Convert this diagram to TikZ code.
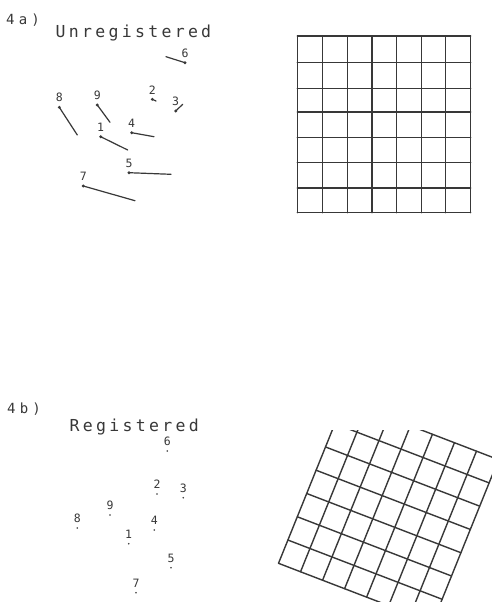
\documentclass[tikz,border=0pt]{standalone}
\usepackage{fontspec}
\newfontfamily\plotfont[LetterSpace=20]{DejaVu Sans Mono}
\newfontfamily\panelfont[LetterSpace=30]{DejaVu Sans Mono}
\definecolor{ink}{gray}{0.22}
\definecolor{txt}{gray}{0.22}
\tikzset{
  gridline/.style={draw=ink, line width=1.4pt, line cap=round},
  vecline/.style={draw=ink, line width=1.2pt, line cap=round},
  bigdot/.style={circle, fill=ink, inner sep=0pt, minimum size=3.2pt},
  smalldot/.style={circle, fill=txt, inner sep=0pt, minimum size=1.8pt},
  title/.style={inner sep=0pt, text=txt, font=\plotfont\fontsize{16.5}{18}\selectfont, anchor=base west},
  panel/.style={inner sep=0pt, text=txt, font=\panelfont\fontsize{14}{15}\selectfont, anchor=base west},
  num/.style={inner sep=0pt, text=txt, font=\plotfont\fontsize{11.5}{12}\selectfont},
}
\begin{document}
\begin{tikzpicture}[x=1pt,y=-1pt]
\useasboundingbox (0,0) rectangle (492,602);
\fill[white] (0,0) rectangle (492,602);

% ---------- 4a ----------
\node[panel] (la) at (6,25) {4a)};
\node[title] (ta) at (55.5,37.5) {Unregistered};

% unregistered grid
\foreach \x in {297.3,322.7,347.7,372,396.7,421.3,445.7,470.7}
  \draw[gridline] (\x,36) -- (\x,212.7);
\foreach \y in {36,62.3,88.3,112,137.3,162.7,188,212.7}
  \draw[gridline] (297.3,\y) -- (470.7,\y);

% points with displacement vectors
\foreach \n/\px/\py/\ex/\ey in {
  6/185/62.7/166/56.7,
  2/152.3/99.3/156/101,
  3/175.7/111/182.7/104.3,
  8/59.3/107.3/77.3/135,
  9/97.3/105/110/122.3,
  4/131.7/132.7/154/136.7,
  1/100.7/136.7/127.7/150,
  5/129/172.7/171/174.3,
  7/83.3/186/135/200.7}{
  \node[bigdot] (pa\n) at (\px,\py) {};
  \coordinate (ea\n) at (\ex,\ey);
  \draw[vecline] (pa\n.center) -- (ea\n);
  \node[num] (na\n) at (\px,\py-9.5) {\n};
}

% ---------- 4b ----------
\node[panel] (lb) at (7,413) {4b)};
\node[title] (tb) at (69.5,431) {Registered};

\foreach \n/\px/\py in {
  6/167.3/451, 2/157/494, 3/183.3/497.7, 9/110/515, 8/77.3/528,
  4/154.3/530, 1/128.7/543.7, 5/171/567.7, 7/136/592.7}{
  \node[smalldot] (pb\n) at (\px,\py) {};
  \node[num] (nb\n) at (\px,\py-9.5) {\n};
}

% registered (transformed) grid
\begin{scope}
  \clip (0,430) rectangle (492,602);
  \begin{scope}[shift={(278.5,563.3)}, x={(22.03pt,-8.46pt)}, y={(9.40pt,23.27pt)}]
    \foreach \i in {0,...,7}{
      \draw[gridline] (\i,0) -- (\i,7);
      \draw[gridline] (0,\i) -- (7,\i);
    }
  \end{scope}
\end{scope}
\end{tikzpicture}
\end{document}
